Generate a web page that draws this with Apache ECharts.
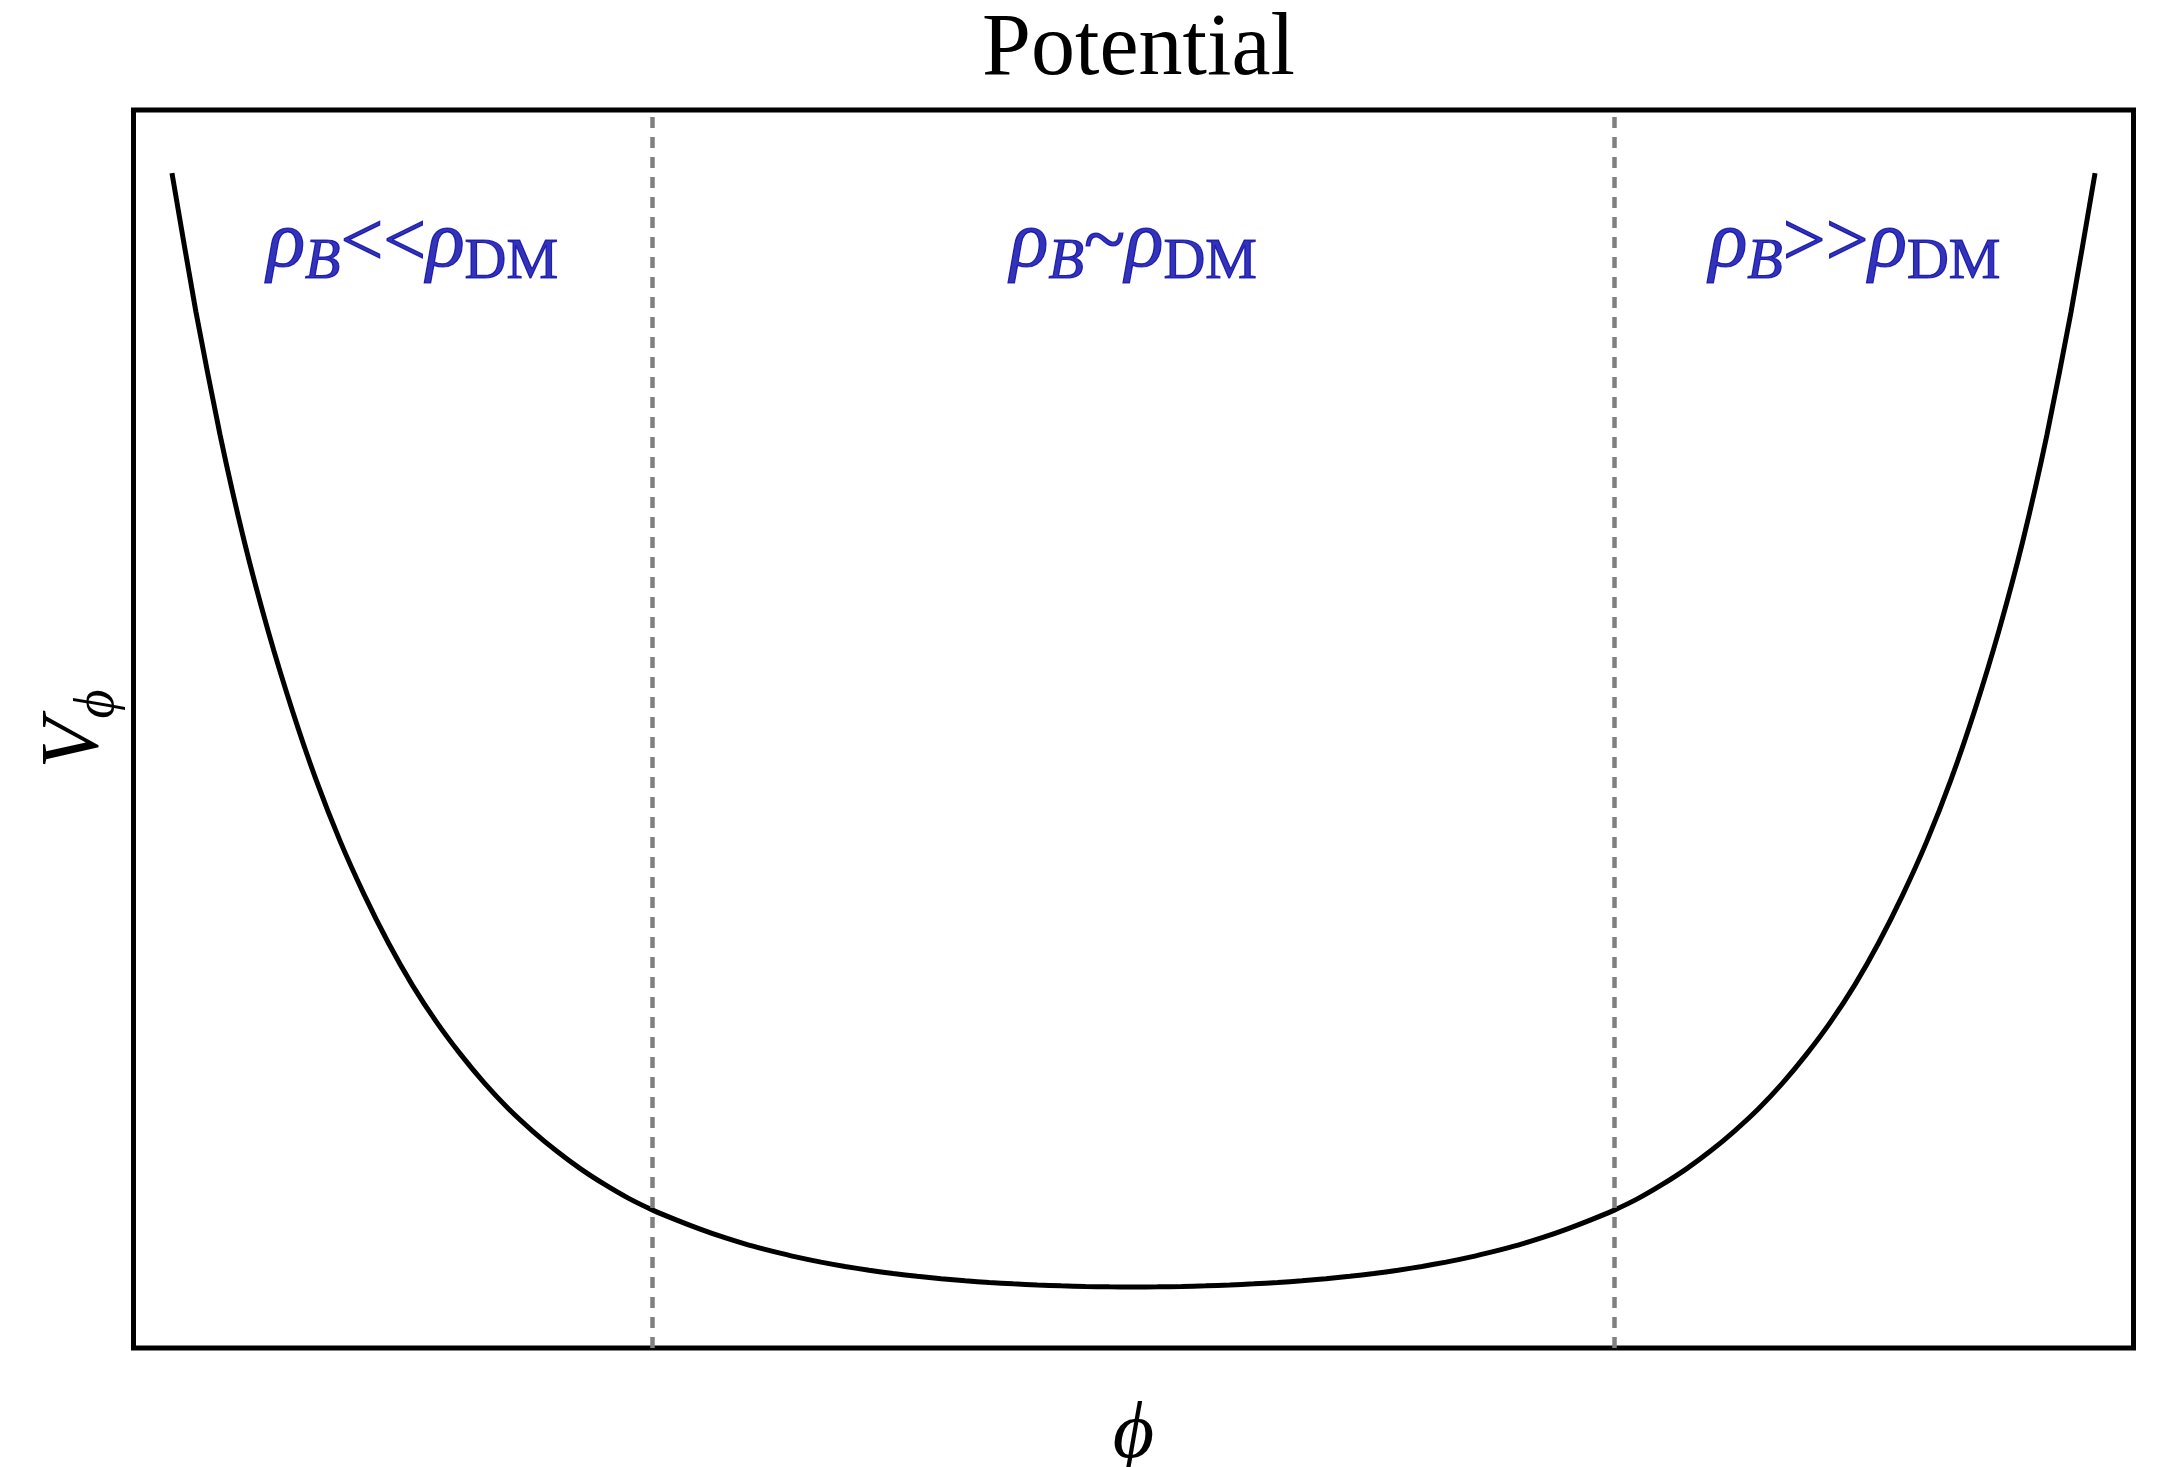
<!DOCTYPE html>
<html>
<head>
<meta charset="utf-8">
<script src="https://cdn.jsdelivr.net/npm/echarts@6/dist/echarts.min.js"></script>
<style>
html,body{margin:0;padding:0;background:#fff;overflow:hidden;}
#chart{width:2157px;height:1467px;}
</style>
</head>
<body>
<div id="chart"></div>
<script>
// ---- data ----
const titleText = 'Potential';
const xAxisName = 'ϕ';
const phiValues = [
  -1.000, -0.975, -0.950, -0.925, -0.900, -0.875, -0.850, -0.825, -0.800, -0.775,
  -0.750, -0.725, -0.700, -0.675, -0.650, -0.625, -0.600, -0.575, -0.550, -0.525,
  -0.500, -0.475, -0.450, -0.425, -0.400, -0.375, -0.350, -0.325, -0.300, -0.275,
  -0.250, -0.225, -0.200, -0.175, -0.150, -0.125, -0.100, -0.075, -0.050, -0.025,
  0.000,
  0.025, 0.050, 0.075, 0.100, 0.125, 0.150, 0.175, 0.200, 0.225, 0.250,
  0.275, 0.300, 0.325, 0.350, 0.375, 0.400, 0.425, 0.450, 0.475, 0.500,
  0.525, 0.550, 0.575, 0.600, 0.625, 0.650, 0.675, 0.700, 0.725, 0.750,
  0.775, 0.800, 0.825, 0.850, 0.875, 0.900, 0.925, 0.950, 0.975, 1.000
];
const potentialValues = [
  100.0, 87.5, 76.5, 67.0, 58.9, 51.8, 45.5, 40.0, 35.2, 30.9,
  27.1, 23.8, 20.9, 18.3, 16.0, 14.0, 12.2, 10.6, 9.2, 7.95,
  6.9, 6.0, 5.17, 4.42, 3.76, 3.2, 2.68, 2.23, 1.84, 1.5,
  1.2, 0.96, 0.74, 0.56, 0.4, 0.28, 0.17, 0.1, 0.04, 0.01,
  0.0,
  0.01, 0.04, 0.1, 0.17, 0.28, 0.4, 0.56, 0.74, 0.96, 1.2,
  1.5, 1.84, 2.23, 2.68, 3.2, 3.76, 4.42, 5.17, 6.0, 6.9,
  7.95, 9.2, 10.6, 12.2, 14.0, 16.0, 18.3, 20.9, 23.8, 27.1,
  30.9, 35.2, 40.0, 45.5, 51.8, 58.9, 67.0, 76.5, 87.5, 100.0
];
const regionBounds = [-0.5, 0.5];
const annotX = [-0.75, 0.0, 0.75];
const annotY = [93.5, 93.5, 93.5];
const annotRelation = ['<<', '~', '>>'];
const xRange = [-1.04, 1.04];
const yRange = [-5.48, 105.66];

// ---- chart ----
const serif = "'Liberation Serif', 'DejaVu Serif', serif";
const blue = '#0000a8';
const chart = echarts.init(document.getElementById('chart'), null, {renderer: 'canvas'});

const gridLeft = 133.5, gridRight = 23.5, gridTop = 110, gridBottom = 119;
const plotCenterX = gridLeft + (2157 - gridLeft - gridRight) / 2;

const curveData = phiValues.map((p, i) => [p, potentialValues[i]]);
const annotData = annotX.map((x, i) => ({value: [x, annotY[i]], rel: annotRelation[i]}));

const heavy = {color: blue, textBorderColor: blue, textBorderWidth: 1.2};
const annotRich = {
  r: Object.assign({fontFamily: serif, fontStyle: 'italic', fontSize: 80, lineHeight: 80}, heavy),
  s: Object.assign({fontFamily: serif, fontStyle: 'italic', fontSize: 58, lineHeight: 58, padding: [34, 0, 0, 0]}, heavy),
  m: Object.assign({fontFamily: serif, fontSize: 76, lineHeight: 76}, heavy),
  d: Object.assign({fontFamily: serif, fontSize: 58, lineHeight: 58, padding: [34, 0, 0, 0]}, heavy)
};

chart.setOption({
  animation: false,
  backgroundColor: '#ffffff',
  title: {
    text: titleText,
    left: plotCenterX,
    top: 2,
    textAlign: 'center',
    textStyle: {fontFamily: serif, fontSize: 88, fontWeight: 'normal', color: '#000'}
  },
  grid: {
    left: gridLeft, right: gridRight, top: gridTop, bottom: gridBottom,
    containLabel: false,
    outerBoundsMode: 'none',
    show: true, borderColor: '#000', borderWidth: 5, backgroundColor: 'transparent'
  },
  xAxis: {
    type: 'value', min: xRange[0], max: xRange[1],
    name: xAxisName, nameLocation: 'middle', nameGap: 48,
    nameTextStyle: {fontFamily: serif, fontStyle: 'italic', fontSize: 80, color: '#000'},
    axisLine: {show: false}, axisTick: {show: false}, axisLabel: {show: false}, splitLine: {show: false}
  },
  yAxis: {
    type: 'value', min: yRange[0], max: yRange[1],
    name: '{v|V}{s|ϕ}', nameLocation: 'middle', nameGap: 17, nameRotate: 90,
    nameTextStyle: {
      color: '#000',
      rich: {
        v: {fontFamily: serif, fontStyle: 'italic', fontSize: 82, lineHeight: 82, color: '#000'},
        s: {fontFamily: serif, fontStyle: 'italic', fontSize: 56, lineHeight: 56, padding: [46, 0, 0, 0], color: '#000'}
      }
    },
    axisLine: {show: false}, axisTick: {show: false}, axisLabel: {show: false}, splitLine: {show: false}
  },
  series: [
    {
      type: 'line',
      data: curveData,
      symbol: 'none',
      smooth: 0.2,
      lineStyle: {color: '#000', width: 5},
      z: 3,
      markLine: {
        silent: true,
        symbol: ['none', 'none'],
        label: {show: false},
        lineStyle: {color: '#808080', width: 4.5, type: [11, 9]},
        emphasis: {disabled: true},
        data: regionBounds.map(b => ({xAxis: b}))
      }
    },
    {
      type: 'scatter',
      data: annotData,
      symbolSize: 0,
      silent: true,
      label: {
        show: true,
        position: 'inside',
        formatter: p => '{r|ρ}{s|B}{m|' + p.data.rel + '}{r|ρ}{d|DM}',
        rich: annotRich
      },
      z: 4
    }
  ]
});
</script>
</body>
</html>
